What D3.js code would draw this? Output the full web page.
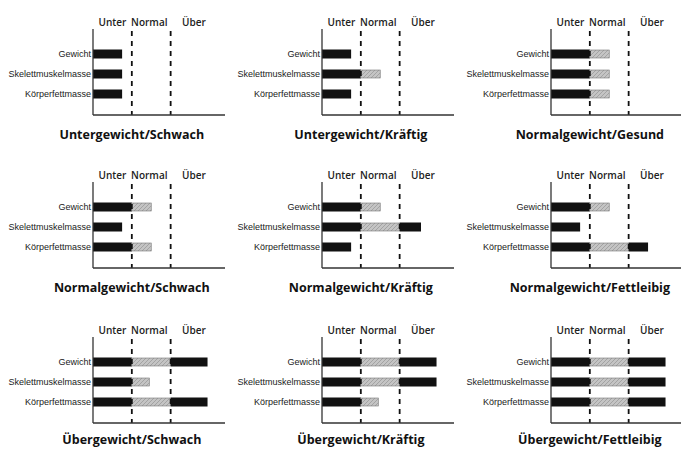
<!DOCTYPE html>
<html>
<head>
<meta charset="utf-8">
<script src="https://cdn.jsdelivr.net/npm/d3@7"></script>
<style>
  body { margin: 0; background: #fff; }
  svg { display: block; }
  .lbl { font-family: "Liberation Sans Narrow", "Liberation Sans", sans-serif; font-size: 9px; fill: #1a1a1a; }
  .zone { font-family: "Open Sans", sans-serif; font-size: 10px; font-weight: 600; fill: #222; }
  .title { font-family: "Open Sans", sans-serif; font-size: 12.5px; font-weight: 700; fill: #111; }
</style>
</head>
<body>
<svg width="681" height="449"></svg>
<script>
const svg = d3.select("svg");
const height = +svg.attr("height");

// data
const measures = ["Gewicht", "Skelettmuskelmasse", "Körperfettmasse"];
const zones = ["Unter", "Normal", "Über"];
const zoneMid = [0.5, 1.45, 2.6];
const limits = [1, 2];
const titles = [
    "Untergewicht/Schwach", "Untergewicht/Kräftig", "Normalgewicht/Gesund",
    "Normalgewicht/Schwach", "Normalgewicht/Kräftig", "Normalgewicht/Fettleibig",
    "Übergewicht/Schwach", "Übergewicht/Kräftig", "Übergewicht/Fettleibig"
];
const gewicht = [0.75, 0.75, 1.5, 1.5, 1.5, 1.5, 2.95, 2.95, 2.95];
const skelett = [0.75, 1.5, 1.5, 0.75, 2.55, 0.75, 1.45, 2.95, 2.95];
const fett = [0.75, 0.75, 1.5, 1.5, 0.75, 2.5, 2.95, 1.45, 2.95];

const colX = [93, 322, 551];
const rowY = [115, 268, 423];

const x = d3.scaleLinear().domain([0, 3.4]).range([0, 132]);
const y = d3.scalePoint().domain(measures).range([-61, -21]);
const barH = 9;

// grey hatched fill for the normal zone
const defs = svg.append('defs');
const pat = defs.append('pattern')
    .attr('id', 'hatch')
    .attr('patternUnits', 'userSpaceOnUse')
    .attr('width', 4).attr('height', 4);
pat.append('rect').attr('width', 4).attr('height', 4).attr('fill', '#c4c4c4');
pat.append('path').attr('d', 'M0,4 L4,0').attr('stroke', '#9a9a9a').attr('stroke-width', 0.8);

const segments = v => {
    const s = [{ a: 0, b: Math.min(v, limits[0]), grey: false }];
    if (v > limits[0]) s.push({ a: limits[0], b: Math.min(v, limits[1]), grey: true });
    if (v > limits[1]) s.push({ a: limits[1], b: v, grey: false });
    return s;
};

titles.forEach((t, i) => {
    const oy = rowY[Math.floor(i / 3)];
    const g = svg.append('g')
        .attr('transform', `translate(${colX[i % 3]}, ${oy})`);
    const vals = [gewicht[i], skelett[i], fett[i]];

    // bars
    measures.forEach((m, j) => {
        g.selectAll(null).data(segments(vals[j]))
            .enter().append('rect')
            .attr('x', d => x(d.a))
            .attr('width', d => x(d.b) - x(d.a))
            .attr('y', d => y(m) - (d.grey ? barH / 2 - 0.5 : barH / 2))
            .attr('height', d => d.grey ? barH - 1 : barH)
            .attr('fill', d => d.grey ? 'url(#hatch)' : '#111')
            .attr('stroke', d => d.grey ? '#777' : 'none')
            .attr('stroke-width', 0.6);
    });

    // dashed limits
    g.selectAll(null).data(limits)
        .enter().append('line')
        .attr('x1', d => x(d)).attr('x2', d => x(d))
        .attr('y1', -84).attr('y2', 0)
        .attr('stroke', '#111')
        .attr('stroke-width', 1.8)
        .attr('stroke-dasharray', '5,5');

    // axes
    g.append('line')
        .attr('x1', 0).attr('x2', 0).attr('y1', -86).attr('y2', 0)
        .attr('stroke', '#333').attr('stroke-width', 1.3);
    g.append('line')
        .attr('x1', 0).attr('x2', x(3.4)).attr('y1', 0).attr('y2', 0)
        .attr('stroke', '#333').attr('stroke-width', 1.3);

    // labels
    g.selectAll(null).data(measures)
        .enter().append('text')
        .attr('class', 'lbl')
        .attr('x', -2)
        .attr('y', d => y(d) + 3)
        .attr('text-anchor', 'end')
        .text(d => d);

    g.selectAll(null).data(zones)
        .enter().append('text')
        .attr('class', 'zone')
        .attr('x', (d, k) => x(zoneMid[k]))
        .attr('y', -89)
        .attr('text-anchor', 'middle')
        .text(d => d);

    g.append('text')
        .attr('class', 'title')
        .attr('x', x(limits[0]))
        .attr('y', Math.min(24, height - oy - 5))
        .attr('text-anchor', 'middle')
        .text(t);
});
</script>
</body>
</html>
